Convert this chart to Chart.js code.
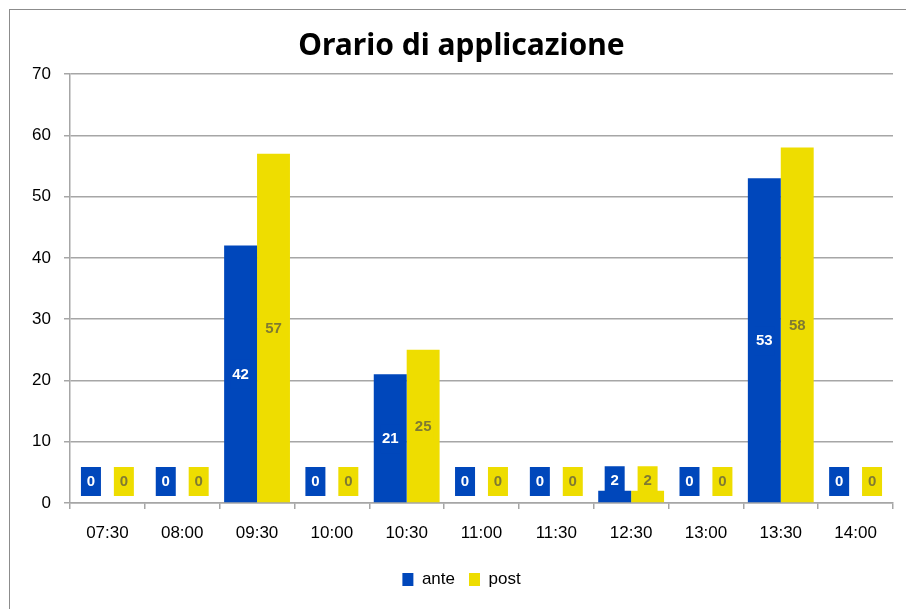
<!DOCTYPE html>
<html>
<head>
<meta charset="utf-8">
<script src="https://cdn.jsdelivr.net/npm/chart.js@4.4.1/dist/chart.umd.min.js"></script>
<style>
  html, body { margin: 0; padding: 0; background: #fff; overflow: hidden; }
  #wrap { position: relative; width: 906px; height: 609px; }
  #frame { position: absolute; left: 9px; top: 9px; width: 1000px; height: 700px; border: 1.5px solid #8c8c8c; box-sizing: border-box; }
  canvas { position: absolute; left: 0; top: 0; }
</style>
</head>
<body>
<div id="wrap">
  <div id="frame"></div>
  <canvas id="chart" width="906" height="609"></canvas>
</div>
<script>
const categories = ["07:30", "08:00", "09:30", "10:00", "10:30", "11:00", "11:30", "12:30", "13:00", "13:30", "14:00"];
const anteValues = [0, 0, 42, 0, 21, 0, 0, 2, 0, 53, 0];
const postValues = [0, 0, 57, 0, 25, 0, 0, 2, 0, 58, 0];
const yTicks = [0, 10, 20, 30, 40, 50, 60, 70];

const BLUE = "#0047bb";
const YELLOW = "#eedd00";
const GRID = "#a6a6a6";

// value labels: boxed in the series colour, centred in the bar, kept above the base
const boxLabels = {
  id: "boxLabels",
  afterDatasetsDraw(chart) {
    const ctx = chart.ctx;
    ctx.save();
    ctx.font = "bold 15px 'Liberation Sans', Arial, sans-serif";
    ctx.textAlign = "center";
    ctx.textBaseline = "middle";
    chart.data.datasets.forEach((ds, di) => {
      const meta = chart.getDatasetMeta(di);
      meta.data.forEach((bar, i) => {
        const cy = Math.min((bar.y + bar.base) / 2, bar.base - 22);
        ctx.fillStyle = ds.backgroundColor;
        ctx.fillRect(bar.x - 10, cy - 14, 20, 29);
        ctx.fillStyle = ds.labelColor;
        ctx.fillText(String(ds.data[i]), bar.x, cy + 1);
      });
    });
    ctx.restore();
  }
};

new Chart(document.getElementById("chart"), {
  type: "bar",
  data: {
    labels: categories,
    datasets: [
      { label: "ante", data: anteValues, backgroundColor: BLUE, labelColor: "#ffffff",
        categoryPercentage: 0.88, barPercentage: 1.0 },
      { label: "post", data: postValues, backgroundColor: YELLOW, labelColor: "#7f7a32",
        categoryPercentage: 0.88, barPercentage: 1.0 }
    ]
  },
  options: {
    responsive: false,
    animation: false,
    layout: { padding: { left: 30, right: 13, top: 0, bottom: 11 } },
    plugins: {
      title: {
        display: true,
        text: "Orario di applicazione",
        color: "#000",
        font: { family: "'Noto Sans', sans-serif", size: 30, weight: "bold" },
        padding: { top: 28, bottom: 10 }
      },
      legend: {
        position: "bottom",
        labels: {
          color: "#000",
          font: { family: "'Liberation Sans', Arial, sans-serif", size: 17 },
          boxWidth: 11,
          boxHeight: 13,
          padding: 14
        }
      },
      tooltip: { enabled: false }
    },
    scales: {
      x: {
        grid: { drawOnChartArea: false, tickLength: 6, color: GRID, lineWidth: 1.5, offset: true },
        border: { color: GRID, width: 1.5 },
        ticks: { color: "#000", padding: 14, font: { family: "'Liberation Sans', Arial, sans-serif", size: 17 } },
        afterFit: (s) => { s.height = 54; }
      },
      y: {
        min: 0,
        max: 70,
        afterBuildTicks: (s) => { s.ticks = yTicks.map((v) => ({ value: v })); },
        grid: { color: GRID, lineWidth: 1.5, tickLength: 6 },
        border: { color: GRID, width: 1.5 },
        ticks: { color: "#000", padding: 13, font: { family: "'Liberation Sans', Arial, sans-serif", size: 17 } },
        afterFit: (s) => { s.width = 40; }
      }
    }
  },
  plugins: [boxLabels]
});
</script>
</body>
</html>
